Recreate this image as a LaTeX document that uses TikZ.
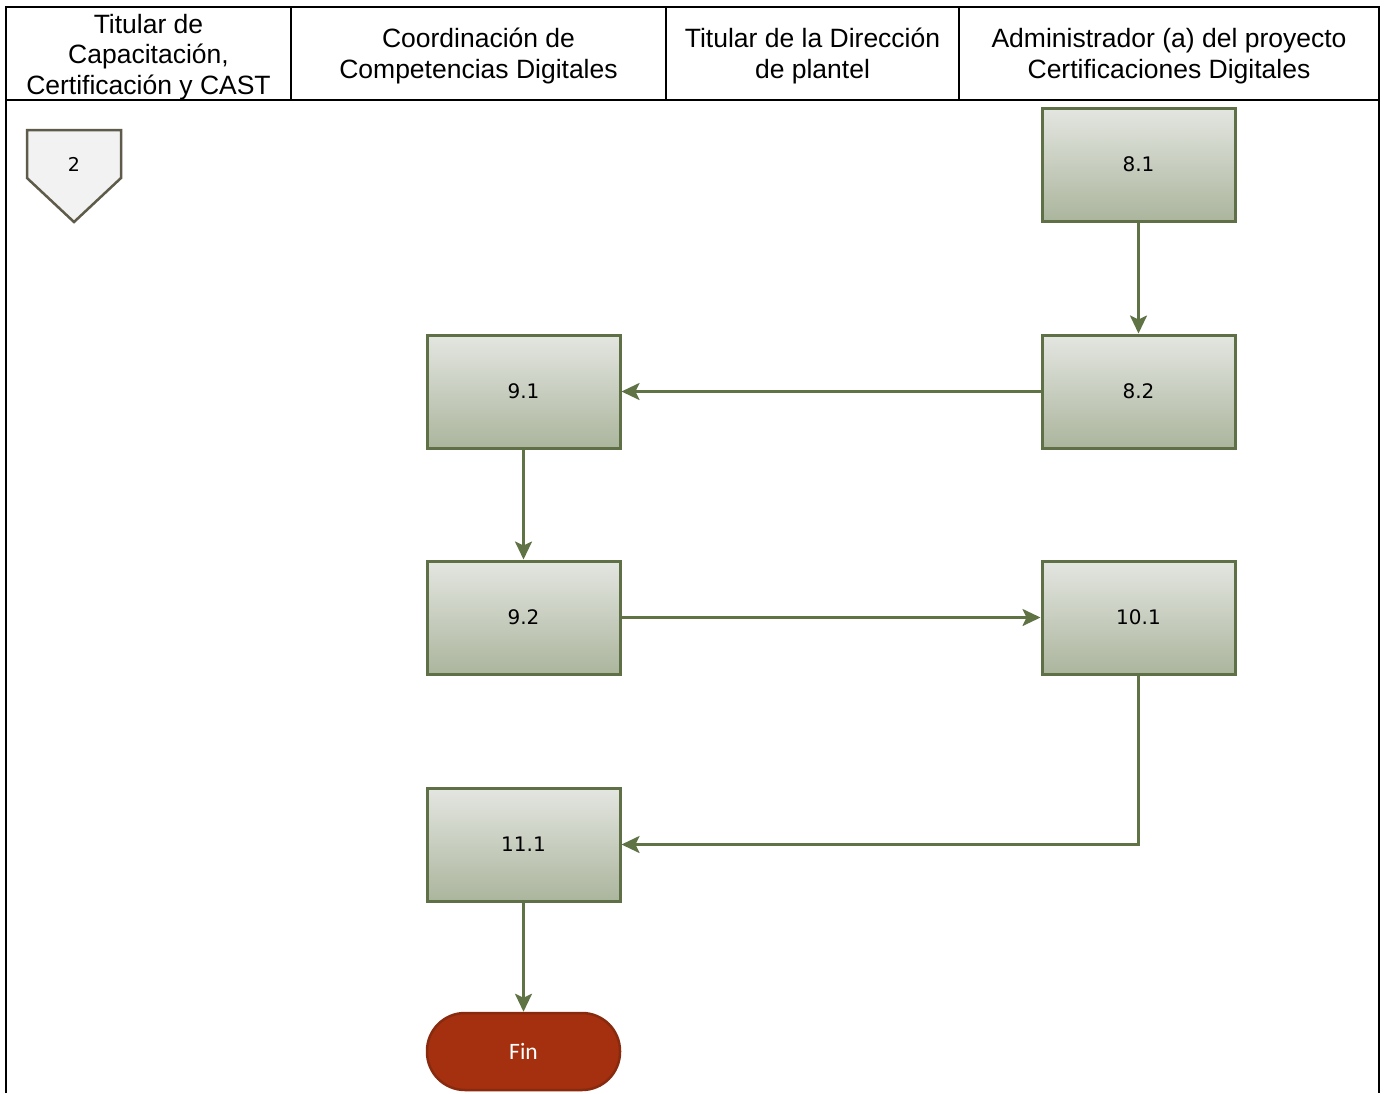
\documentclass[tikz,border=0pt]{standalone}
\usepackage{fontspec}
\setmainfont{Liberation Sans}
\newfontfamily\boxfont{DejaVu Sans}
\newfontfamily\finfont{Carlito}
\usetikzlibrary{arrows.meta,shapes.geometric}
\definecolor{boxline}{HTML}{5F6F46}
\definecolor{arrowc}{HTML}{5F7345}
\definecolor{boxtop}{HTML}{E4E6E1}
\definecolor{boxbot}{HTML}{ABB59D}
\definecolor{finfill}{HTML}{A5300F}
\definecolor{finline}{HTML}{882A0E}
\definecolor{offfill}{HTML}{F2F2F2}
\definecolor{offline}{HTML}{5F5B4A}
\begin{document}
\begin{tikzpicture}[x=1pt,y=-1pt,
  frame/.style={line width=2pt,black},
  hdr/.style={align=center,font=\fontsize{26.5}{30.5}\selectfont,inner sep=0pt},
  task/.style={draw=boxline,line width=3pt,top color=boxtop,bottom color=boxbot,
    minimum width=193pt,minimum height=113pt,inner sep=0pt,font=\boxfont\fontsize{20}{24}\selectfont},
  finbox/.style={draw=finline,line width=2.5pt,fill=finfill,rounded corners=38pt,
    minimum width=193pt,minimum height=77pt,inner sep=0pt,text=white,font=\finfont\fontsize{23.5}{28}\selectfont},
  flow/.style={draw=arrowc,line width=2.5pt,-{Stealth[length=18pt,width=17pt,inset=4pt]}}
]
\useasboundingbox (0,0) rectangle (1385,1093);
\fill[white] (0,0) rectangle (1385,1093);
% frame
\draw[frame] (6,1093) -- (6,7) -- (1379,7) -- (1379,1093);
\draw[frame] (6,100) -- (1379,100);
\draw[frame] (291,7) -- (291,100);
\draw[frame] (666,7) -- (666,100);
\draw[frame] (959,7) -- (959,100);
% headers
\node[hdr] (h1) at (148.5,57) {Titular de\\Capacitación,\\Certificación y CAST};
\node[hdr] (h2) at (478.5,56) {Coordinación de\\Competencias Digitales};
\node[hdr] (h3) at (812.5,56) {Titular de la Dirección\\de plantel};
\node[hdr] (h4) at (1169,56) {Administrador (a) del proyecto\\Certificaciones Digitales};
% off-page connector
\draw[draw=offline,line width=2.5pt,fill=offfill,line join=miter]
  (27,130) -- (121,130) -- (121,178) -- (74,222) -- (27,178) -- cycle;
\node[font=\boxfont\fontsize{19}{22}\selectfont,inner sep=0pt] (c2) at (74,164) {2};
% tasks
\node[task] (t81) at (1138.5,164.5) {8.1};
\node[task] (t82) at (1138.5,391.5) {8.2};
\node[task] (t91) at (523.5,391.5) {9.1};
\node[task] (t92) at (523.5,617.5) {9.2};
\node[task] (t101) at (1138.5,617.5) {10.1};
\node[task] (t111) at (523.5,844.5) {11.1};
\node[finbox] (fin) at (523.5,1051.5) {Fin};
% connectors
\draw[flow] (t81.south) -- (t82.north);
\draw[flow] (t82.west) -- (t91.east);
\draw[flow] (t91.south) -- (t92.north);
\draw[flow] (t92.east) -- (t101.west);
\draw[flow] (t101.south) |- (t111.east);
\draw[flow] (t111.south) -- (fin.north);
\end{tikzpicture}
\end{document}
